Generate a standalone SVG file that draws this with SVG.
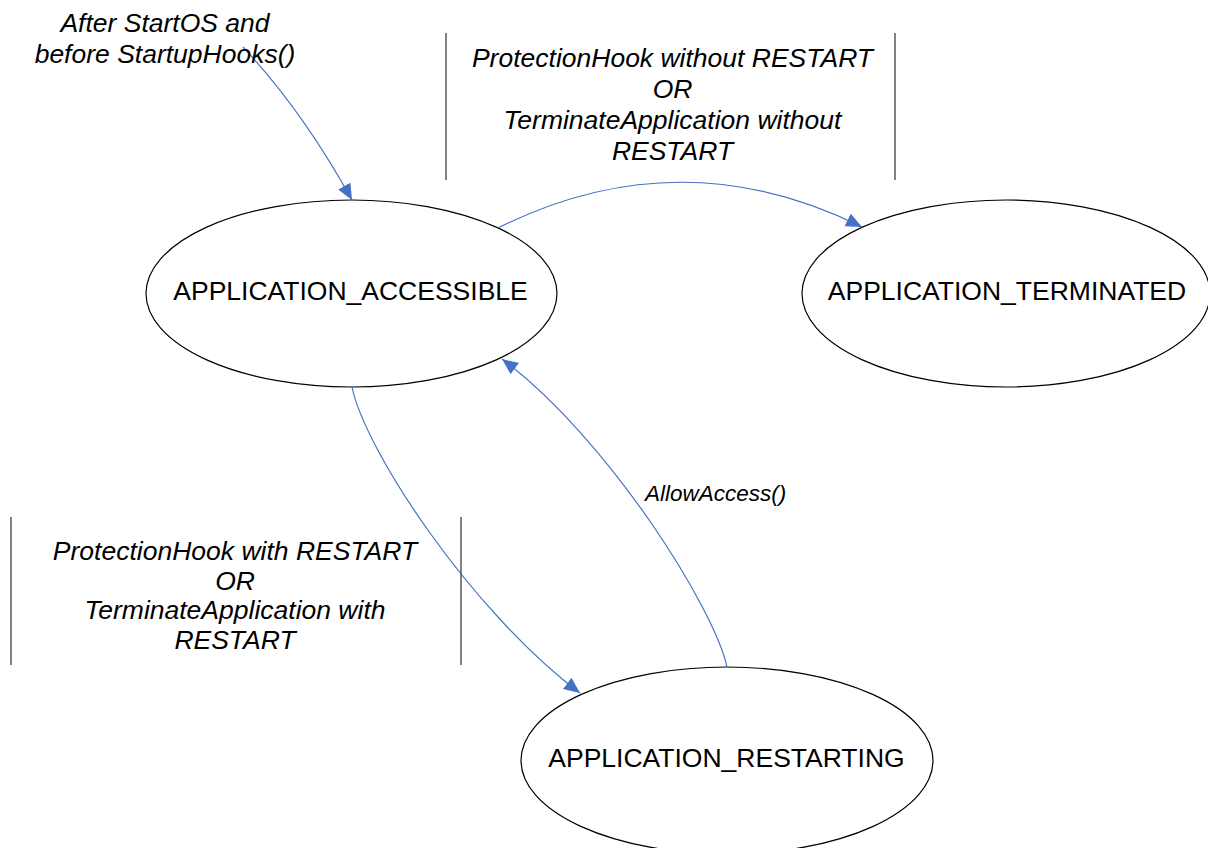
<svg xmlns="http://www.w3.org/2000/svg" width="1208" height="848" viewBox="0 0 1208 848">
<style>
.state{fill:#ffffff;stroke:#000000;stroke-width:1.2}
.st{font-family:"Liberation Sans",Arial,sans-serif;font-size:26.5px;fill:#000000;text-anchor:middle}
.lbl{font-family:"Liberation Sans",Arial,sans-serif;font-size:26.5px;font-style:italic;fill:#000000;text-anchor:middle}
.bar{stroke:#404040;stroke-width:1.3}
.conn{fill:none;stroke:#4472C4;stroke-width:1.2}
</style>
<defs>
<marker id="arr" markerUnits="userSpaceOnUse" markerWidth="17" markerHeight="15" refX="16" refY="7" orient="auto">
<path d="M0,0 L16,7 L0,14 z" fill="#4472C4"/>
</marker>
</defs>
<rect width="1208" height="848" fill="#ffffff"/>
<g id="node-accessible">
<ellipse class="state" cx="351.5" cy="293.5" rx="205.5" ry="93.5"/>
<text class="st" x="350.5" y="300">APPLICATION_ACCESSIBLE</text>
</g>
<g id="node-terminated">
<ellipse class="state" cx="1006" cy="293.5" rx="204" ry="93.5"/>
<text class="st" x="1007" y="300">APPLICATION_TERMINATED</text>
</g>
<g id="node-restarting">
<ellipse class="state" cx="727" cy="760.5" rx="206" ry="93.5"/>
<text class="st" x="726.5" y="767">APPLICATION_RESTARTING</text>
</g>
<g id="connectors">
<path class="conn" d="M243,47 Q302.5,110.5 352,200" marker-end="url(#arr)"/>
<path class="conn" d="M498,228 Q680,137 862,227" marker-end="url(#arr)"/>
<path class="conn" d="M352,387 C365,450 470,610 580,693" marker-end="url(#arr)"/>
<path class="conn" d="M727,667 C715,610 610,440 502,359" marker-end="url(#arr)"/>
</g>
<g id="label-start">
<text class="lbl" x="165" y="32">After StartOS and</text>
<text class="lbl" x="165" y="63">before StartupHooks()</text>
</g>
<g id="label-terminate">
<line class="bar" x1="446" y1="33" x2="446" y2="180"/>
<line class="bar" x1="895" y1="33" x2="895" y2="180"/>
<text class="lbl" x="672.5" y="67">ProtectionHook without RESTART</text>
<text class="lbl" x="672.5" y="98">OR</text>
<text class="lbl" x="672.5" y="129">TerminateApplication without</text>
<text class="lbl" x="672.5" y="160">RESTART</text>
</g>
<g id="label-restart">
<line class="bar" x1="11" y1="517" x2="11" y2="665"/>
<line class="bar" x1="461" y1="517" x2="461" y2="665"/>
<text class="lbl" x="235" y="560">ProtectionHook with RESTART</text>
<text class="lbl" x="235" y="589.5">OR</text>
<text class="lbl" x="235" y="619">TerminateApplication with</text>
<text class="lbl" x="235" y="648.5">RESTART</text>
</g>
<g id="label-allow">
<text class="lbl" x="645" y="501" style="text-anchor:start;font-size:22.5px">AllowAccess()</text>
</g>
</svg>
